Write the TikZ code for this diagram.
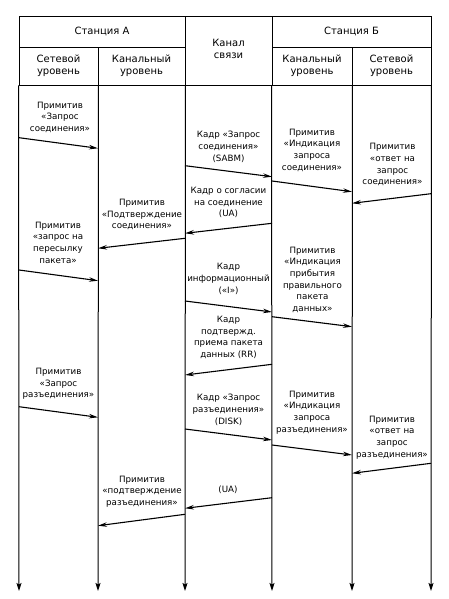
\documentclass[tikz,border=0pt]{standalone}
\usepackage{fontspec}
\setmainfont{DejaVu Sans}
\usepackage{tikz}
\usetikzlibrary{arrows.meta, positioning, calc}

\begin{document}
\begin{tikzpicture}[x=1pt, y=-1pt,
    hcell/.style={draw, line width=0.9pt, align=center, inner sep=0pt,
      font=\fontsize{10}{12.3}\selectfont},
    lbl/.style={align=center, inner sep=0pt, font=\fontsize{8.7}{11.7}\selectfont},
    msg/.style={-{Stealth[length=9pt, width=4.5pt]}, line width=1.1pt},
    life/.style={-{Stealth[length=8pt, width=5pt, inset=1.5pt]}, line width=1pt}]
    \useasboundingbox (0,0) rectangle (449,599);
    % header
    \node[hcell, minimum width=166pt, minimum height=31pt] (stA) at (102,31.5) {Станция А};
    \node[hcell, minimum width=87pt, minimum height=69pt] (chan) at (228.5,50.5) {};
    \node[lbl, font=\fontsize{10}{12.3}\selectfont] (chanT) at (228.5,49) {Канал\\связи};
    \node[hcell, minimum width=159pt, minimum height=31pt] (stB) at (351.5,31.5) {Станция Б};
    \node[hcell, minimum width=79pt, minimum height=38pt] (netA) at (58.5,66) {Сетевой\\уровень};
    \node[hcell, minimum width=87pt, minimum height=38pt] (linkA) at (141.5,66) {Канальный\\уровень};
    \node[hcell, minimum width=80pt, minimum height=38pt] (linkB) at (312,66) {Канальный\\уровень};
    \node[hcell, minimum width=79pt, minimum height=38pt] (netB) at (391.5,66) {Сетевой\\уровень};
    % lifelines
    \coordinate (eNetA) at (19,591);
    \coordinate (eLinkA) at (98,591);
    \coordinate (eChanA) at (185,591);
    \coordinate (eChanB) at (272,591);
    \coordinate (eLinkB) at (352,591);
    \coordinate (eNetB) at (431,591);
    \draw[life] (netA.south west) -- (eNetA);
    \draw[life] (netA.south east) -- (eLinkA);
    \draw[life] (linkA.south east) -- (eChanA);
    \draw[life] (linkB.south west) -- (eChanB);
    \draw[life] (linkB.south east) -- (eLinkB);
    \draw[life] (netB.south east) -- (eNetB);
    % connection set-up
    \coordinate (m1a) at (19,137.7);   \coordinate (m1b) at (98,148.3);
    \coordinate (m2a) at (185,165.7);  \coordinate (m2b) at (272,176.7);
    \coordinate (m3a) at (272,181);    \coordinate (m3b) at (352,191.7);
    \coordinate (m4a) at (431,193.7);  \coordinate (m4b) at (352,203.3);
    \coordinate (m5a) at (272,223.3);  \coordinate (m5b) at (185,233.3);
    \coordinate (m6a) at (185,238.3);  \coordinate (m6b) at (98,248.3);
    \node[lbl] (p1) at (60,117.3) {Примитив\\«Запрос\\соединения»};
    \node[lbl] (p2) at (228.5,146.7) {Кадр «Запрос\\соединения»\\(SABM)};
    \node[lbl] (p3) at (312,150.2) {Примитив\\«Индикация\\запроса\\соединения»};
    \node[lbl] (p4) at (392.5,164.8) {Примитив\\«ответ на\\запрос\\соединения»};
    \node[lbl] (p5) at (228.5,202.7) {Кадр о согласии\\на соединение\\(UA)};
    \node[lbl] (p6) at (142,214.5) {Примитив\\«Подтверждение\\соединения»};
    \draw[msg] (m1a) -- (m1b);
    \draw[msg] (m2a) -- (m2b);
    \draw[msg] (m3a) -- (m3b);
    \draw[msg] (m4a) -- (m4b);
    \draw[msg] (m5a) -- (m5b);
    \draw[msg] (m6a) -- (m6b);
    % data transfer
    \coordinate (m7a) at (19,270);     \coordinate (m7b) at (98,280.7);
    \coordinate (m8a) at (185,301);    \coordinate (m8b) at (272,312);
    \coordinate (m9a) at (272,316.7);  \coordinate (m9b) at (352,326.7);
    \coordinate (m10a) at (272,364.3); \coordinate (m10b) at (185,375);
    \node[lbl] (p7) at (58,242.5) {Примитив\\«запрос на\\пересылку\\пакета»};
    \node[lbl] (p8) at (228.5,279) {Кадр\\информационный\\(«I»)};
    \node[lbl] (p9) at (312.5,279.8) {Примитив\\«Индикация\\прибытия\\правильного\\пакета\\данных»};
    \node[lbl] (p10) at (228.5,337.5) {Кадр\\подтвержд.\\приема пакета\\данных (RR)};
    \draw[msg] (m7a) -- (m7b);
    \draw[msg] (m8a) -- (m8b);
    \draw[msg] (m9a) -- (m9b);
    \draw[msg] (m10a) -- (m10b);
    % disconnection
    \coordinate (m11a) at (19,406.7);  \coordinate (m11b) at (98,417.3);
    \coordinate (m12a) at (185,429);   \coordinate (m12b) at (272,440);
    \coordinate (m13a) at (272,445);   \coordinate (m13b) at (352,455);
    \coordinate (m14a) at (431,463.3); \coordinate (m14b) at (352,473.3);
    \coordinate (m15a) at (272,497.7); \coordinate (m15b) at (185,508.3);
    \coordinate (m16a) at (185,514.3); \coordinate (m16b) at (98,525.7);
    \node[lbl] (p11) at (58.5,384) {Примитив\\«Запрос\\разъединения»};
    \node[lbl] (p12) at (228.5,410) {Кадр «Запрос\\разъединения»\\(DISK)};
    \node[lbl] (p13) at (312,412.5) {Примитив\\«Индикация\\запроса\\разъединения»};
    \node[lbl] (p14) at (392,437.5) {Примитив\\«ответ на\\запрос\\разъединения»};
    \node[lbl] (p15) at (228,489.3) {(UA)};
    \node[lbl] (p16) at (142,491.7) {Примитив\\«подтверждение\\разъединения»};
    \draw[msg] (m11a) -- (m11b);
    \draw[msg] (m12a) -- (m12b);
    \draw[msg] (m13a) -- (m13b);
    \draw[msg] (m14a) -- (m14b);
    \draw[msg] (m15a) -- (m15b);
    \draw[msg] (m16a) -- (m16b);
  \end{tikzpicture}
\end{document}
